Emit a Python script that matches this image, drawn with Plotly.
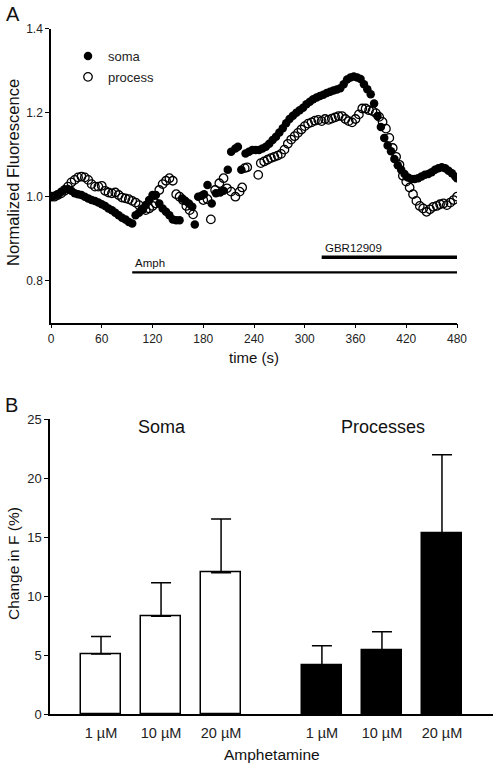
import plotly.graph_objects as go

W, H = 498, 768
FONT = "Liberation Sans, Arial, sans-serif"

# ---------------- Panel A data ----------------
soma_t = [0, 4, 8, 12, 16, 20, 24, 28, 32, 36, 40, 44, 48, 52, 56, 60, 64, 68, 72, 76,
          80, 84, 88, 92, 96, 100, 104, 108, 112, 116, 120, 124, 128, 132, 136, 140, 144, 148, 152,
          155, 159, 163, 167, 170, 174, 178, 181, 185, 190, 195, 200, 204, 209, 213, 218, 221, 225,
          230, 234, 238, 242, 246, 250, 254, 258, 262, 266, 270, 274, 278, 282, 286, 290, 294, 298,
          302, 306, 310, 314, 318, 322, 326, 330, 334, 338, 342, 346, 350, 354, 358, 362, 366, 370,
          374, 378, 382, 386, 390, 394, 398, 402, 406, 410, 414, 418, 422, 426, 430, 434, 438, 442,
          446, 450, 454, 458, 462, 466, 470, 474, 478, 480]
soma_v = [1.000, 1.002, 1.006, 1.012, 1.018, 1.018, 1.014, 1.008, 1.006, 1.004, 1.000, 0.996,
          0.992, 0.990, 0.986, 0.982, 0.978, 0.972, 0.968, 0.962, 0.956, 0.950, 0.946, 0.940,
          0.936, 0.956, 0.962, 0.970, 0.980, 0.992, 1.004, 1.004, 0.984, 0.972, 0.964, 0.956,
          0.946, 0.944, 0.944, 0.996, 0.990, 0.984, 0.976, 0.934, 1.000, 1.002, 1.006, 1.028,
          0.984, 1.008, 1.010, 1.014, 1.064, 1.107, 1.115, 1.119, 1.064, 1.103, 1.107, 1.111,
          1.111, 1.111, 1.115, 1.119, 1.126, 1.135, 1.143, 1.153, 1.163, 1.175, 1.185, 1.193,
          1.200, 1.206, 1.212, 1.220, 1.226, 1.232, 1.236, 1.240, 1.243, 1.247, 1.250, 1.253,
          1.255, 1.258, 1.268, 1.279, 1.284, 1.286, 1.284, 1.280, 1.268, 1.256, 1.244, 1.222,
          1.192, 1.166, 1.140, 1.122, 1.108, 1.090, 1.075, 1.064, 1.054, 1.046, 1.042, 1.042,
          1.044, 1.048, 1.052, 1.054, 1.058, 1.064, 1.068, 1.070, 1.068, 1.062, 1.056, 1.048,
          1.044]

proc_t = [0, 4, 8, 12, 16, 20, 24, 28, 32, 36, 40, 44, 48, 52, 56, 60, 64, 68, 72, 76,
          80, 84, 88, 92, 96, 100, 104, 108, 112, 116, 120, 124, 128, 132, 136, 140, 144, 148, 152,
          156, 160, 164, 168, 180, 185, 189, 194, 199, 204, 208, 213, 218, 223, 226, 229, 232, 245,
          248, 252, 256, 260, 264, 268, 272, 276, 280, 284, 288, 292, 296, 300, 304, 308, 312, 316,
          320, 324, 328, 332, 336, 340, 344, 348, 352, 356, 360, 364, 368, 372, 376, 380, 384, 388,
          392, 396, 400, 404, 408, 412, 416, 420, 424, 428, 432, 436, 440, 444, 448, 452, 456, 460,
          464, 468, 472, 476, 480]
proc_v = [1.000, 1.000, 1.004, 1.008, 1.014, 1.024, 1.034, 1.040, 1.046, 1.048, 1.046, 1.040,
          1.030, 1.024, 1.024, 1.026, 1.014, 1.010, 1.008, 1.010, 1.004, 0.998, 0.996, 0.994,
          0.990, 0.986, 0.980, 0.970, 0.968, 0.972, 0.978, 0.984, 1.016, 1.030, 1.038, 1.044,
          1.038, 1.006, 1.000, 0.992, 0.978, 0.968, 0.958, 0.992, 0.994, 0.946, 1.016, 1.032,
          1.044, 1.020, 1.012, 1.000, 1.012, 1.022, 1.068, 1.070, 1.052, 1.080, 1.084, 1.088,
          1.092, 1.095, 1.098, 1.102, 1.112, 1.126, 1.136, 1.144, 1.152, 1.160, 1.168, 1.174,
          1.177, 1.181, 1.183, 1.180, 1.185, 1.183, 1.186, 1.189, 1.192, 1.192, 1.185, 1.180,
          1.177, 1.185, 1.196, 1.210, 1.210, 1.206, 1.204, 1.199, 1.190, 1.178, 1.162, 1.140,
          1.116, 1.095, 1.076, 1.050, 1.036, 1.022, 1.006, 0.990, 0.978, 0.972, 0.964, 0.970,
          0.976, 0.978, 0.982, 0.984, 0.980, 0.986, 0.992, 1.000]

# treatment bars (start, end, level)
amph_span = [96, 480]
amph_level = 0.82
gbr_span = [320, 480]
gbr_level = 0.856

xticks_a = [0, 60, 120, 180, 240, 300, 360, 420, 480]
yticks_a = [0.8, 1.0, 1.2, 1.4]

# ---------------- Panel B data ----------------
dose_labels = ["1 µM", "10 µM", "20 µM"]
soma_mean = [5.1, 8.3, 12.0]
soma_err = [1.5, 2.85, 4.55]
proc_mean = [4.15, 5.45, 15.35]
proc_err = [1.65, 1.55, 6.65]
yticks_b = [0, 5, 10, 15, 20, 25]


def px(x, y):
    return x / W, 1 - y / H


fig = go.Figure()

# Panel A traces
fig.add_trace(go.Scatter(
    x=proc_t, y=proc_v, mode="markers", name="process", legendgroup="p",
    marker=dict(symbol="circle-open", size=8.5, color="black", line=dict(width=1.3, color="black")),
    xaxis="x", yaxis="y", legendrank=2))
fig.add_trace(go.Scatter(
    x=soma_t, y=soma_v, mode="markers", name="soma", legendgroup="s",
    marker=dict(symbol="circle", size=8.5, color="black"),
    xaxis="x", yaxis="y", legendrank=1))
fig.add_trace(go.Scatter(
    x=amph_span, y=[amph_level] * 2, mode="lines", line=dict(color="black", width=2.2),
    showlegend=False, xaxis="x", yaxis="y", hoverinfo="skip"))
fig.add_trace(go.Scatter(
    x=gbr_span, y=[gbr_level] * 2, mode="lines", line=dict(color="black", width=3.5),
    showlegend=False, xaxis="x", yaxis="y", hoverinfo="skip"))

# Panel B traces
group_gap = 1.68
soma_x = [1 + i for i in range(3)]
proc_x = [1 + 3 + group_gap - 1 + i for i in range(3)]
fig.add_trace(go.Bar(
    x=soma_x, y=soma_mean, width=0.68, showlegend=False,
    marker=dict(color="white", line=dict(color="black", width=1.5)),
    error_y=dict(type="data", array=soma_err, arrayminus=[0] * 3, symmetric=False,
                 color="black", thickness=1.5, width=10),
    xaxis="x2", yaxis="y2"))
fig.add_trace(go.Bar(
    x=proc_x, y=proc_mean, width=0.68, showlegend=False,
    marker=dict(color="black", line=dict(color="black", width=1.5)),
    error_y=dict(type="data", array=proc_err, arrayminus=[0] * 3, symmetric=False,
                 color="black", thickness=1.5, width=10),
    xaxis="x2", yaxis="y2"))

axis_common = dict(showline=True, linecolor="black", linewidth=1.5, showgrid=False,
                   zeroline=False, ticks="outside", tickcolor="black", tickwidth=1.2,
                   automargin=False, tickfont=dict(family=FONT, size=12, color="#222"))

fig.update_layout(
    width=W, height=H, margin=dict(l=0, r=0, t=0, b=0, pad=0, autoexpand=False),
    paper_bgcolor="white", plot_bgcolor="white",
    font=dict(family=FONT, color="black"),
    xaxis=dict(domain=[51 / W, 457 / W], range=[0, 480], tickvals=xticks_a, ticklen=4,
               anchor="y", **axis_common),
    yaxis=dict(domain=[1 - 322.7 / H, 1 - 28.7 / H], range=[0.7, 1.4], tickvals=yticks_a,
               tickformat=".1f", ticklen=4, anchor="x", **axis_common),
    xaxis2=dict(domain=[50 / W, 493 / W], range=[0.15, 7.53], tickvals=soma_x + proc_x,
                ticktext=dose_labels + dose_labels, anchor="y2", automargin=False,
                showline=True, linecolor="black", linewidth=1.5, showgrid=False, zeroline=False,
                ticks="outside", ticklen=5, tickcolor="rgba(0,0,0,0)",
                tickfont=dict(family=FONT, size=14.5, color="#222")),
    yaxis2=dict(domain=[1 - 714.3 / H, 1 - 419.3 / H], range=[0, 25], tickvals=yticks_b,
                ticklen=4, anchor="x2", **axis_common),
    legend=dict(x=68 / W, y=1 - 41 / H, xanchor="left", yanchor="top",
                font=dict(family=FONT, size=13, color="#222"), bgcolor="rgba(0,0,0,0)",
                tracegroupgap=1, itemwidth=30),
    bargap=0,
)
fig.update_layout(yaxis2_tickfont_size=13)

annots = []


def add_text(text, x, y, size, angle=0, xanchor="center", yanchor="middle"):
    ax, ay = px(x, y)
    annots.append(dict(text=text, x=ax, y=ay, xref="paper", yref="paper", showarrow=False,
                       textangle=angle, xanchor=xanchor, yanchor=yanchor,
                       font=dict(family=FONT, size=size, color="#111")))


add_text("A", 13, 14, 20)
add_text("B", 11, 405, 20)
add_text("Normalized Fluorescence", 13, 173, 16.5, angle=-90)
add_text("time (s)", 254, 357, 15)
add_text("Change in F (%)", 13, 564, 15.5, angle=-90)
add_text("Amphetamine", 272, 754, 15.5)
add_text("Soma", 161.5, 427, 18)
add_text("Processes", 382.5, 427, 18)

annots.append(dict(text="Amph", x=amph_span[0] + 1, y=amph_level, xref="x", yref="y",
                   showarrow=False, xanchor="left", yanchor="bottom", yshift=1,
                   font=dict(family=FONT, size=11.5, color="#111")))
annots.append(dict(text="GBR12909", x=gbr_span[0] + 1, y=gbr_level, xref="x", yref="y",
                   showarrow=False, xanchor="left", yanchor="bottom", yshift=1,
                   font=dict(family=FONT, size=11.5, color="#111")))
fig.update_layout(annotations=annots)

fig.write_html("out.html", config={"displayModeBar": False},
               post_script="document.body.style.margin='0';document.body.style.overflow='hidden';")
